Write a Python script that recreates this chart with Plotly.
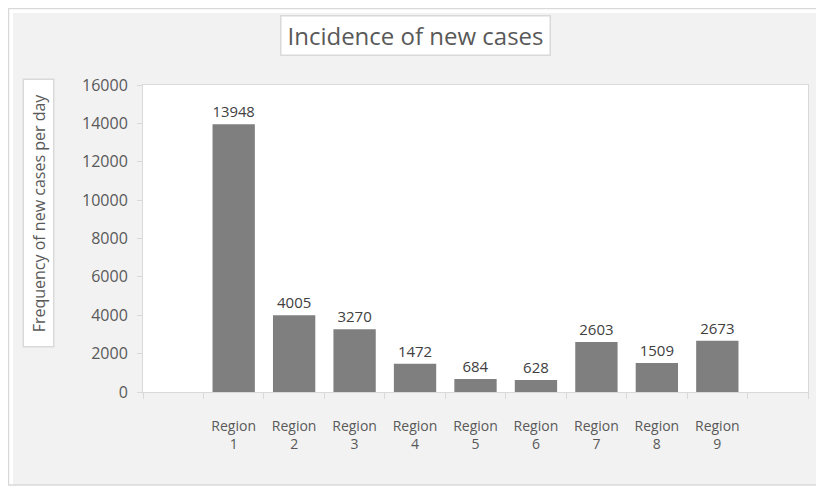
import plotly.graph_objects as go

regions = ["Region<br>1", "Region<br>2", "Region<br>3", "Region<br>4", "Region<br>5",
           "Region<br>6", "Region<br>7", "Region<br>8", "Region<br>9"]
new_cases = [13948, 4005, 3270, 1472, 684, 628, 2603, 1509, 2673]

# Excel leaves an empty slot on each side of the bars
categories = [" "] + regions + ["  "]
values = [None] + new_cases + [None]

# page body adds an 8px margin, so the figure is a little smaller than the window
W, H = 816, 482
ML, MR, MT, MB = 135, 16, 77, 98
PW, PH = W - ML - MR, H - MT - MB


def px(x):
    return (x - ML) / PW


def py(y):
    return (H - MB - y) / PH


FONT = "Open Sans"
GREY = "#595959"
LINE = "#d9d9d9"

fig = go.Figure(go.Bar(
    x=categories, y=values,
    marker_color="#7f7f7f", marker_line_width=0,
    text=[("" if v is None else str(v)) for v in values],
    textposition="outside", cliponaxis=False,
    textfont=dict(family=FONT, size=15, color="#404040"),
))

fig.update_layout(
    width=W, height=H,
    margin=dict(l=ML, r=MR, t=MT, b=MB),
    paper_bgcolor="#f2f2f2", plot_bgcolor="white",
    showlegend=False, bargap=0.3,
    font=dict(family=FONT, color=GREY),
    xaxis=dict(type="category", categoryorder="array", categoryarray=categories,
               showline=True, linecolor=LINE, mirror=True, showgrid=False,
               ticks="outside", ticklen=6, tickcolor=LINE, tickson="boundaries",
               tickfont=dict(size=14, color=GREY), ticklabelstandoff=21),
    yaxis=dict(range=[0, 16000], dtick=2000, tickformat="d",
               showline=True, linecolor=LINE, mirror=True, showgrid=False,
               ticks="outside", ticklen=5, tickcolor=LINE,
               tickfont=dict(size=16, color=GREY), ticklabelstandoff=6),
)

# white rim right/bottom, then the chart border
fig.add_shape(type="rect", xref="paper", yref="paper",
              x0=px(0), x1=px(W), y0=py(H), y1=py(0),
              line=dict(color="white", width=10), fillcolor="rgba(0,0,0,0)")
fig.add_shape(type="rect", xref="paper", yref="paper",
              x0=px(0.5), x1=px(811), y0=py(477), y1=py(0.5),
              line=dict(color=LINE, width=1.5), fillcolor="rgba(0,0,0,0)")

fig.add_annotation(text="Incidence of new cases", xref="paper", yref="paper",
                   x=px(407.5), y=py(28), xanchor="center", yanchor="middle",
                   showarrow=False,
                   font=dict(family=FONT, size=24, color=GREY),
                   width=262, height=32,
                   bgcolor="white", bordercolor=LINE, borderwidth=1.5, borderpad=3)
fig.add_annotation(text="Frequency of new cases per day", xref="paper", yref="paper",
                   x=px(30), y=py(205.5), xanchor="center", yanchor="middle",
                   showarrow=False, textangle=-90,
                   font=dict(family=FONT, size=16, color=GREY),
                   width=260, height=23,
                   bgcolor="white", bordercolor=LINE, borderwidth=1.5, borderpad=3)

fig.write_html("out.html")
